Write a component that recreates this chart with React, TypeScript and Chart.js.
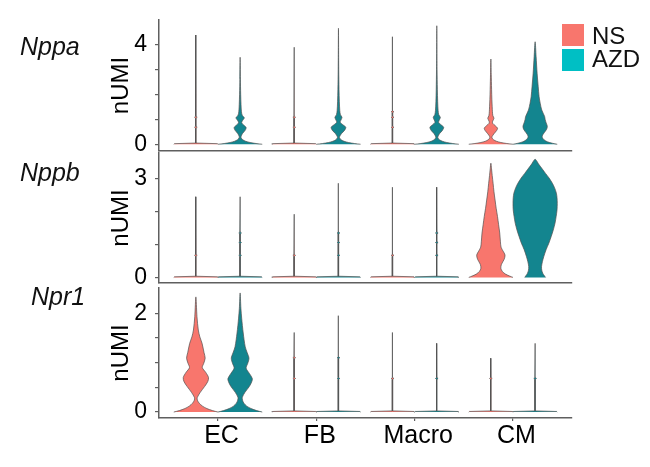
import React, { useEffect, useRef } from "react";
import { Chart, registerables } from "chart.js";

Chart.register(...registerables);
Chart.defaults.font.family = "'Liberation Sans', Arial, sans-serif";

type Profile = [number, number][]; // [nUMI, relative half width]

const categories = ["EC", "FB", "Macro", "CM"];
const groups = ["NS", "AZD"];
const genes = ["Nppa", "Nppb", "Npr1"];

// mostly-zero cells: flat base at 0, a thin whisker up to the max and a few small marks
const thinProfiles = new WeakSet<Profile>();
const thin = (max: number, marks: number[], eps: number): Profile => {
  const p: Profile = [[0, 1], [eps * 0.6, 0.97], [eps * 1.2, 0.012]];
  marks.forEach((m) => p.push([m - eps, 0.012], [m, 0.06], [m + eps, 0.012]));
  p.push([max, 0]);
  thinProfiles.add(p);
  return p;
};

// ---- Nppa ----
const nppaTicks = [0, 1, 2, 3, 4];
const nppaTickLabels = ["0", "", "", "", "4"];
const nppaRange = [-0.27, 4.97];
const nppaEcNs = thin(4.37, [0.68, 1.08], 0.04);
const nppaEcAzd: Profile = [[0, 1], [0.03, 0.72], [0.07, 0.45], [0.12, 0.25], [0.18, 0.12], [0.25, 0.05], [0.3, 0.04], [0.42, 0.1], [0.56, 0.23], [0.67, 0.27], [0.77, 0.16], [0.86, 0.07], [0.96, 0.12], [1.06, 0.19], [1.15, 0.1], [1.3, 0.06], [1.6, 0.04], [2.0, 0.025], [2.6, 0.012], [3.48, 0]];
const nppaFbNs = thin(3.88, [0.68, 1.08], 0.04);
const nppaFbAzd: Profile = [[0, 1], [0.03, 0.72], [0.07, 0.45], [0.12, 0.25], [0.18, 0.12], [0.25, 0.05], [0.3, 0.05], [0.42, 0.13], [0.56, 0.28], [0.68, 0.33], [0.78, 0.2], [0.88, 0.08], [0.98, 0.12], [1.08, 0.16], [1.18, 0.09], [1.35, 0.06], [1.7, 0.04], [2.2, 0.025], [3.0, 0.012], [4.64, 0]];
const nppaMacroNs = thin(4.3, [0.68, 1.08, 1.3], 0.04);
const nppaMacroAzd: Profile = [[0, 1], [0.03, 0.72], [0.07, 0.45], [0.12, 0.25], [0.18, 0.12], [0.25, 0.05], [0.3, 0.05], [0.42, 0.12], [0.56, 0.26], [0.68, 0.31], [0.78, 0.19], [0.88, 0.08], [0.98, 0.12], [1.08, 0.16], [1.18, 0.09], [1.35, 0.06], [1.7, 0.04], [2.2, 0.025], [3.0, 0.012], [4.74, 0]];
const nppaCmNs: Profile = [[0, 1], [0.03, 0.72], [0.07, 0.45], [0.12, 0.25], [0.18, 0.12], [0.24, 0.06], [0.3, 0.05], [0.42, 0.14], [0.55, 0.26], [0.64, 0.3], [0.74, 0.2], [0.84, 0.08], [0.92, 0.08], [1.04, 0.14], [1.14, 0.09], [1.3, 0.07], [1.5, 0.06], [1.8, 0.045], [2.2, 0.032], [2.8, 0.016], [3.41, 0]];
const nppaCmAzd: Profile = [[0, 1], [0.04, 0.78], [0.1, 0.55], [0.18, 0.4], [0.26, 0.33], [0.33, 0.32], [0.45, 0.4], [0.6, 0.52], [0.72, 0.55], [0.85, 0.5], [1.0, 0.45], [1.11, 0.43], [1.37, 0.3], [1.64, 0.23], [1.9, 0.18], [2.3, 0.14], [2.84, 0.09], [3.5, 0.045], [4.1, 0]];

// ---- Nppb ----
const nppbTicks = [0, 1, 2, 3];
const nppbTickLabels = ["0", "", "", "3"];
const nppbRange = [-0.17, 3.78];
const nppbEcNs = thin(2.45, [0.67], 0.03);
const nppbEcAzd = thin(2.45, [0.67, 1.06, 1.35], 0.03);
const nppbFbNs = thin(1.92, [0.67], 0.03);
const nppbFbAzd = thin(2.86, [0.67, 1.06, 1.35], 0.03);
const nppbMacroNs = thin(2.74, [0.67], 0.03);
const nppbMacroAzd = thin(2.74, [0.67, 1.06, 1.35], 0.03);
const nppbCmNs: Profile = [[0, 1], [0.04, 0.85], [0.1, 0.66], [0.18, 0.52], [0.28, 0.45], [0.4, 0.48], [0.55, 0.6], [0.68, 0.64], [0.8, 0.55], [0.92, 0.46], [1.1, 0.43], [1.35, 0.4], [1.6, 0.35], [1.85, 0.3], [2.1, 0.24], [2.35, 0.19], [2.6, 0.14], [2.86, 0.1], [3.1, 0.06], [3.3, 0.03], [3.47, 0]];
const nppbCmAzd: Profile = [[0, 0.47], [0.05, 0.42], [0.12, 0.35], [0.22, 0.3], [0.33, 0.29], [0.48, 0.33], [0.63, 0.39], [0.85, 0.5], [1.04, 0.62], [1.25, 0.73], [1.44, 0.82], [1.65, 0.9], [1.85, 0.95], [2.05, 0.99], [2.25, 1.0], [2.42, 0.99], [2.56, 0.96], [2.72, 0.88], [2.86, 0.78], [3.02, 0.63], [3.16, 0.47], [3.27, 0.35], [3.36, 0.25], [3.45, 0.15], [3.52, 0.09], [3.59, 0]];

// ---- Npr1 ----
const npr1Ticks = [0, 0.5, 1, 1.5, 2];
const npr1TickLabels = ["0", "", "", "", "2"];
const npr1Range = [-0.12, 2.51];
const npr1EcNs: Profile = [[0, 1], [0.03, 0.75], [0.07, 0.5], [0.12, 0.3], [0.18, 0.15], [0.24, 0.07], [0.29, 0.06], [0.4, 0.2], [0.52, 0.4], [0.62, 0.54], [0.7, 0.57], [0.8, 0.45], [0.9, 0.29], [0.98, 0.35], [1.09, 0.42], [1.2, 0.37], [1.39, 0.28], [1.52, 0.18], [1.66, 0.11], [1.93, 0.05], [2.33, 0]];
const npr1EcAzd: Profile = [[0, 1], [0.03, 0.75], [0.07, 0.5], [0.12, 0.3], [0.18, 0.17], [0.24, 0.11], [0.3, 0.1], [0.4, 0.22], [0.52, 0.42], [0.62, 0.53], [0.68, 0.55], [0.78, 0.42], [0.89, 0.27], [0.98, 0.34], [1.09, 0.4], [1.2, 0.32], [1.32, 0.23], [1.6, 0.14], [1.9, 0.07], [2.1, 0.035], [2.41, 0]];
const npr1FbNs = thin(1.61, [0.68, 1.1], 0.02);
const npr1FbAzd = thin(1.95, [0.68, 1.1], 0.02);
const npr1MacroNs = thin(1.61, [0.68], 0.02);
const npr1MacroAzd = thin(1.39, [0.68], 0.02);
const npr1CmNs = thin(1.09, [0.68], 0.02);
const npr1CmAzd = thin(1.39, [0.68], 0.02);

const NS_FILL = "#F8766D";
const AZD_FILL = "#13858F";
const LEGEND_COLORS = ["#F8766D", "#00BFC4"];
const AXIS = "#5f5f5f";
const HALF = 0.225; // half of a violin's max width, in category units

interface Panel {
  gene: string;
  violins: Profile[][]; // per category: [NS, AZD]
  ticks: number[];
  tickLabels: string[];
  range: number[];
  top: number;
  height: number;
  padTop: number;
  padBottom: number;
  xLabels: boolean;
  geneTop: number;
  geneLeft: number;
}

const panels: Panel[] = [
  {
    gene: genes[0],
    violins: [[nppaEcNs, nppaEcAzd], [nppaFbNs, nppaFbAzd], [nppaMacroNs, nppaMacroAzd], [nppaCmNs, nppaCmAzd]],
    ticks: nppaTicks, tickLabels: nppaTickLabels, range: nppaRange,
    top: 0, height: 160, padTop: 20, padBottom: 9, xLabels: false, geneTop: 34, geneLeft: 20,
  },
  {
    gene: genes[1],
    violins: [[nppbEcNs, nppbEcAzd], [nppbFbNs, nppbFbAzd], [nppbMacroNs, nppbMacroAzd], [nppbCmNs, nppbCmAzd]],
    ticks: nppbTicks, tickLabels: nppbTickLabels, range: nppbRange,
    top: 150, height: 140, padTop: 3, padBottom: 7, xLabels: false, geneTop: 160, geneLeft: 20,
  },
  {
    gene: genes[2],
    violins: [[npr1EcNs, npr1EcAzd], [npr1FbNs, npr1FbAzd], [npr1MacroNs, npr1MacroAzd], [npr1CmNs, npr1CmAzd]],
    ticks: npr1Ticks, tickLabels: npr1TickLabels, range: npr1Range,
    top: 280, height: 187, padTop: 8, padBottom: 0, xLabels: true, geneTop: 284, geneLeft: 31,
  },
];

// closed outline: right side bottom->top, then left side top->bottom
const outline = (profile: Profile, center: number) => {
  const right = profile.map(([v, w]) => ({ x: center + w * HALF, y: v }));
  const left = profile
    .slice(0, -1)
    .reverse()
    .map(([v, w]) => ({ x: center - w * HALF, y: v }));
  return [...right, ...left];
};

const buildChart = (canvas: HTMLCanvasElement, p: Panel) => {
  const datasets: any[] = [];
  p.violins.forEach((pair, ci) => {
    pair.forEach((profile, gi) => {
      const center = ci + 1 + (gi === 0 ? -HALF : HALF);
      datasets.push({
        label: `${categories[ci]} ${groups[gi]}`,
        data: outline(profile, center),
        backgroundColor: gi === 0 ? NS_FILL : AZD_FILL,
        borderColor: "#505050",
        borderWidth: 0.7,
        borderJoinStyle: "round",
        pointRadius: 0,
        tension: thinProfiles.has(profile) ? 0 : 0.3,
        fill: "shape",
      });
    });
  });

  return new Chart(canvas, {
    type: "line",
    data: { datasets },
    options: {
      animation: false,
      responsive: false,
      indexAxis: "y",
      events: [],
      layout: { padding: { left: 100, right: 78, top: p.padTop, bottom: p.padBottom } },
      plugins: { legend: { display: false }, tooltip: { enabled: false } },
      scales: {
        x: {
          type: "linear",
          position: "bottom",
          min: 0.4,
          max: 4.6,
          afterBuildTicks: (s: any) => {
            s.ticks = categories.map((_, i) => ({ value: i + 1 }));
          },
          afterFit: (s: any) => {
            s.height = p.xLabels ? 49 : 0;
            s.paddingLeft = 0;
            s.paddingRight = 0;
          },
          ticks: {
            display: p.xLabels,
            autoSkip: false,
            maxRotation: 0,
            color: "#000",
            font: { size: 25 },
            padding: 0,
            labelOffset: 3.5,
            callback: (v: any) => categories[Number(v) - 1],
          },
          grid: { display: p.xLabels, drawOnChartArea: false, drawTicks: true, tickLength: 3, color: AXIS, lineWidth: 1.2 },
          border: { display: true, color: AXIS, width: 1.5 },
        },
        y: {
          type: "linear",
          position: "left",
          min: p.range[0],
          max: p.range[1],
          afterBuildTicks: (s: any) => {
            s.ticks = p.ticks.map((value) => ({ value }));
          },
          afterFit: (s: any) => {
            s.width = 59;
            s.paddingTop = 0;
            s.paddingBottom = 0;
          },
          ticks: {
            autoSkip: false,
            color: "#000",
            font: { size: 23 },
            padding: 8,
            callback: (v: any) => p.tickLabels[p.ticks.indexOf(Number(v))] ?? "",
          },
          grid: { drawOnChartArea: false, drawTicks: true, tickLength: 4, color: AXIS, lineWidth: 1.2 },
          border: { display: true, color: AXIS, width: 1.5 },
          title: { display: true, text: "nUMI", color: "#000", font: { size: 24 }, padding: { top: 6.5, bottom: 0 } },
        },
      },
    } as any,
  });
};

const ViolinPanel = ({ panel }: { panel: Panel }) => {
  const canvasRef = useRef<HTMLCanvasElement | null>(null);

  useEffect(() => {
    if (!canvasRef.current) return;
    const chart = buildChart(canvasRef.current, panel);
    return () => chart.destroy();
  }, [panel]);

  return (
    <>
      <canvas
        ref={canvasRef}
        width={650}
        height={panel.height}
        style={{ position: "absolute", left: 0, top: panel.top, width: 650, height: panel.height }}
      />
      <div
        style={{
          position: "absolute",
          left: panel.geneLeft,
          top: panel.geneTop,
          fontSize: 25,
          lineHeight: 1,
          fontStyle: "italic",
          color: "#111",
        }}
      >
        {panel.gene}
      </div>
    </>
  );
};

export default function App() {
  return (
    <div
      style={{
        position: "absolute",
        left: 0,
        top: 0,
        width: 650,
        height: 467,
        background: "#fff",
        fontFamily: "'Liberation Sans', Arial, sans-serif",
        overflow: "hidden",
      }}
    >
      {panels.map((p) => (
        <ViolinPanel key={p.gene} panel={p} />
      ))}
      {groups.map((g, i) => (
        <React.Fragment key={g}>
          <div
            style={{
              position: "absolute",
              left: 562,
              top: 24 + i * 24.5,
              width: 21.5,
              height: 22,
              background: LEGEND_COLORS[i],
            }}
          />
          <div
            style={{
              position: "absolute",
              left: 592,
              top: 24 + i * 23,
              fontSize: 24,
              lineHeight: 1,
              color: "#111",
            }}
          >
            {g}
          </div>
        </React.Fragment>
      ))}
    </div>
  );
}
